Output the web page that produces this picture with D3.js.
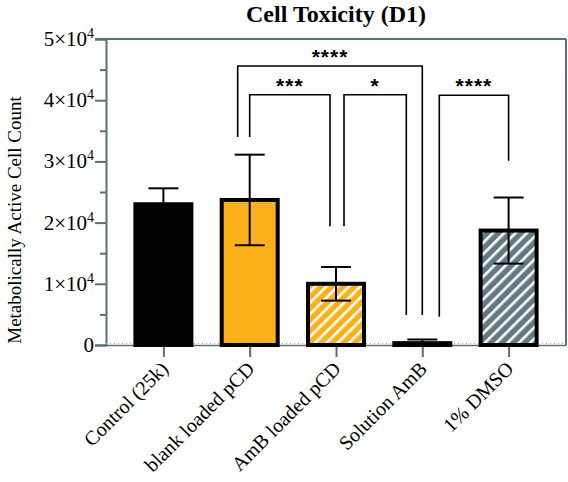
<!DOCTYPE html>
<html>
<head>
<meta charset="utf-8">
<script src="https://cdn.jsdelivr.net/npm/d3@7"></script>
<style>
  html, body { margin: 0; padding: 0; background: #fff; }
  svg { display: block; }
</style>
</head>
<body>
<svg id="chart" width="568" height="482"></svg>
<script>
// ---- data ----
const categories = ["Control (25k)", "blank loaded pCD", "AmB loaded pCD", "Solution AmB", "1% DMSO"];
const means = [23000, 23700, 10000, 300, 18700];
const errors = [2600, 7400, 2750, 600, 5400];
const fills = ["solid-black", "solid-orange", "hatch-orange", "solid-black", "hatch-grey"];
const yTickValues = [0, 10000, 20000, 30000, 40000, 50000];
const yTickMantissa = ["0", "1", "2", "3", "4", "5"];
const yMinorValues = [5000, 15000, 25000, 35000, 45000];
// significance comparisons: category indexes, bracket level and arm ends (data units)
const compA = [1, 2, 1, 3];
const compB = [2, 3, 3, 4];
const compLevel = [40900, 40900, 45600, 40800];
const compEndA = [34000, 19400, 34000, 4600];
const compEndB = [19400, 4900, 4900, 30100];
const compLabel = ["***", "*", "****", "****"];

// ---- layout / style ----
const axisColor = "#5b6f7b";
const orange = "#FBB117";
const grey = "#627A84";
const armOffsetA = [0, 8, -12, 17];
const armOffsetB = [-6, -16, 0, 0];

const svg = d3.select("#chart");
const x = d3.scalePoint().domain(categories).range([106, 566]).padding(0.665);
const y = d3.scaleLinear().domain([0, 50000]).range([345, 39]);

const defs = svg.append("defs");
function hatch(id, color) {
  const p = defs.append("pattern").attr("id", id)
    .attr("patternUnits", "userSpaceOnUse").attr("width", 8).attr("height", 8)
    .attr("patternTransform", "rotate(45)");
  p.append("rect").attr("width", 8).attr("height", 8).attr("fill", color);
  p.append("rect").attr("x", 0).attr("width", 2.6).attr("height", 8).attr("fill", "#fff");
}
hatch("hatch-orange", orange);
hatch("hatch-grey", grey);
const fillFor = { "solid-black": "#000", "solid-orange": orange, "hatch-orange": "url(#hatch-orange)", "hatch-grey": "url(#hatch-grey)" };

// title
svg.append("text").attr("x", 336).attr("y", 22).attr("text-anchor", "middle")
  .attr("font-family", "Liberation Serif, serif").attr("font-weight", "bold").attr("font-size", 24)
  .text("Cell Toxicity (D1)");

// y label
svg.append("text").attr("transform", "translate(21,220) rotate(-90)").attr("text-anchor", "middle")
  .attr("font-family", "Liberation Serif, serif").attr("font-size", 19)
  .text("Metabolically Active Cell Count");

// frame top/right
svg.append("line").attr("x1", 95).attr("x2", 566).attr("y1", y(50000)).attr("y2", y(50000))
  .attr("stroke", axisColor).attr("stroke-width", 2);
svg.append("line").attr("x1", 566).attr("x2", 566).attr("y1", y(50000)).attr("y2", y(0))
  .attr("stroke", axisColor).attr("stroke-width", 2);

// y axis
const yAxis = svg.append("g").attr("transform", "translate(106,0)")
  .call(d3.axisLeft(y).tickValues(yTickValues).tickSize(11).tickFormat(""));
yAxis.select(".domain").attr("stroke", axisColor).attr("stroke-width", 2);
yAxis.selectAll(".tick line").attr("stroke", axisColor).attr("stroke-width", 2);
const yMinor = svg.append("g").attr("transform", "translate(106,0)")
  .call(d3.axisLeft(y).tickValues(yMinorValues).tickSize(6).tickFormat(""));
yMinor.select(".domain").remove();
yMinor.selectAll(".tick line").attr("stroke", axisColor).attr("stroke-width", 2);

// y tick labels
yTickValues.forEach((v, i) => {
  const t = svg.append("text").attr("x", 94).attr("y", y(v) + 7).attr("text-anchor", "end")
    .attr("font-family", "Liberation Serif, serif").attr("font-size", 21);
  if (v === 0) { t.text("0"); }
  else {
    t.append("tspan").text(yTickMantissa[i] + "\u00d710");
    t.append("tspan").attr("dy", -8).attr("font-size", 14).text("4");
  }
});

// x axis
const xAxis = svg.append("g").attr("transform", `translate(0,${y(0)})`)
  .call(d3.axisBottom(x).tickSize(12).tickFormat("").tickSizeOuter(0));
xAxis.select(".domain").attr("stroke", axisColor).attr("stroke-width", 1.6);
xAxis.selectAll(".tick line").attr("stroke", axisColor).attr("stroke-width", 2);
svg.append("line").attr("x1", 106).attr("x2", 566).attr("y1", y(0) - 1.5).attr("y2", y(0) - 1.5)
  .attr("stroke", "#9aa8b0").attr("stroke-width", 1).attr("stroke-dasharray", "1,3");

// x labels
categories.forEach(c => {
  svg.append("text").attr("transform", `translate(${x(c) + 6},${y(0) + 25}) rotate(-45)`)
    .attr("text-anchor", "end").attr("font-family", "Liberation Serif, serif").attr("font-size", 20)
    .text(c);
});

// bars
const barW = 56;
svg.append("g").selectAll("rect").data(categories).join("rect")
  .attr("x", d => x(d) - barW / 2).attr("width", barW)
  .attr("y", (d, i) => y(means[i])).attr("height", (d, i) => y(0) - y(means[i]))
  .attr("fill", (d, i) => fillFor[fills[i]]).attr("stroke", "#000").attr("stroke-width", 4);

// error bars
const capW = 30;
const eb = svg.append("g").attr("stroke", "#000").attr("stroke-width", 2);
categories.forEach((c, i) => {
  const cx = x(c), hi = y(means[i] + errors[i]), lo = y(Math.max(0, means[i] - errors[i]));
  eb.append("line").attr("x1", cx).attr("x2", cx).attr("y1", hi).attr("y2", lo);
  eb.append("line").attr("x1", cx - capW / 2).attr("x2", cx + capW / 2).attr("y1", hi).attr("y2", hi);
  if (means[i] - errors[i] > 0)
    eb.append("line").attr("x1", cx - capW / 2).attr("x2", cx + capW / 2).attr("y1", lo).attr("y2", lo);
});

// significance brackets
const br = svg.append("g");
compLabel.forEach((lab, i) => {
  const xa = x(categories[compA[i]]) + armOffsetA[i];
  const xb = x(categories[compB[i]]) + armOffsetB[i];
  const yl = y(compLevel[i]);
  br.append("path")
    .attr("d", `M${xa},${y(compEndA[i])}V${yl}H${xb}V${y(compEndB[i])}`)
    .attr("fill", "none").attr("stroke", "#000").attr("stroke-width", 1.6);
  br.append("text").attr("x", (xa + xb) / 2).attr("y", yl - 2).attr("text-anchor", "middle")
    .attr("font-family", "Liberation Sans, Arial, sans-serif").attr("font-weight", "bold")
    .attr("font-size", 21).attr("letter-spacing", 1).text(lab);
});
</script>
</body>
</html>
